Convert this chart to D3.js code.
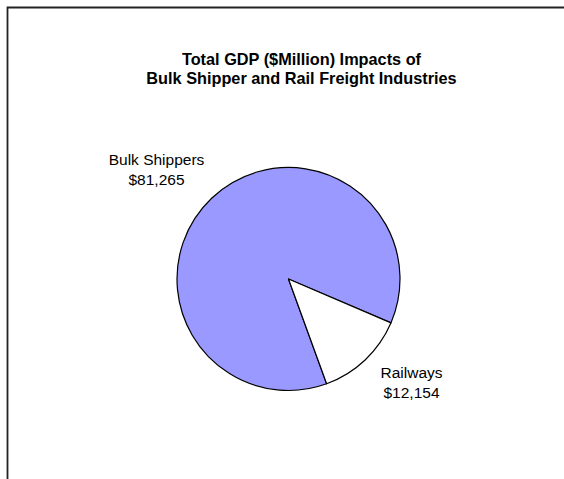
<!DOCTYPE html>
<html>
<head>
<meta charset="utf-8">
<script src="https://cdn.jsdelivr.net/npm/d3@7"></script>
<style>
  html, body { margin: 0; padding: 0; background: #fff; overflow: hidden; }
  svg { display: block; }
</style>
</head>
<body>
<svg id="chart" width="564" height="479"></svg>
<script>
// GDP impacts ($ million)
const categories = ["Bulk Shippers", "Railways"];
const values = [81265, 12154];
const titleLines = ["Total GDP ($Million) Impacts of", "Bulk Shipper and Rail Freight Industries"];
const colors = ["#9999FF", "#FFFFFF"];

const svg = d3.select("#chart");
const font = "'Liberation Sans', Arial, Helvetica, sans-serif";

// Chart frame: top and left edges (the rest lies outside the view)
svg.append("path")
  .attr("d", "M7.5,479 V7.5 H564")
  .attr("fill", "none")
  .attr("stroke", "#222")
  .attr("stroke-width", 1.8);

// Title
svg.append("g").selectAll("text")
  .data(titleLines)
  .join("text")
  .attr("x", 301.5)
  .attr("y", (d, i) => 65 + i * 19)
  .attr("text-anchor", "middle")
  .attr("font-family", font)
  .attr("font-weight", "bold")
  .attr("font-size", "16.3px")
  .attr("fill", "#000")
  .text(d => d);

// Pie
const cx = 288.5, cy = 279, r = 111.5;
const start = 160 * Math.PI / 180;
const pie = d3.pie().sort(null).startAngle(start).endAngle(start + 2 * Math.PI);
const arcs = pie(values);
const arc = d3.arc().innerRadius(0).outerRadius(r);

const g = svg.append("g").attr("transform", `translate(${cx},${cy})`);
g.selectAll("path")
  .data(arcs)
  .join("path")
  .attr("d", arc)
  .attr("fill", (d, i) => colors[i])
  .attr("stroke", "#000")
  .attr("stroke-width", 1.2)
  .attr("stroke-linejoin", "round");

// Data labels: name and formatted value
const fmt = d3.format("$,");
const labelPos = [[156.5, 165], [411.5, 378]];
const labels = svg.append("g").selectAll("g")
  .data(arcs)
  .join("g")
  .attr("transform", (d, i) => `translate(${labelPos[i][0]},${labelPos[i][1]})`);
labels.append("text")
  .attr("text-anchor", "middle")
  .attr("font-family", font)
  .attr("font-size", "15.5px")
  .attr("fill", "#000")
  .selectAll("tspan")
  .data((d, i) => [categories[i], fmt(values[i])])
  .join("tspan")
  .attr("x", 0)
  .attr("dy", (d, j) => j === 0 ? 0 : 19.5)
  .text(d => d);
</script>
</body>
</html>
